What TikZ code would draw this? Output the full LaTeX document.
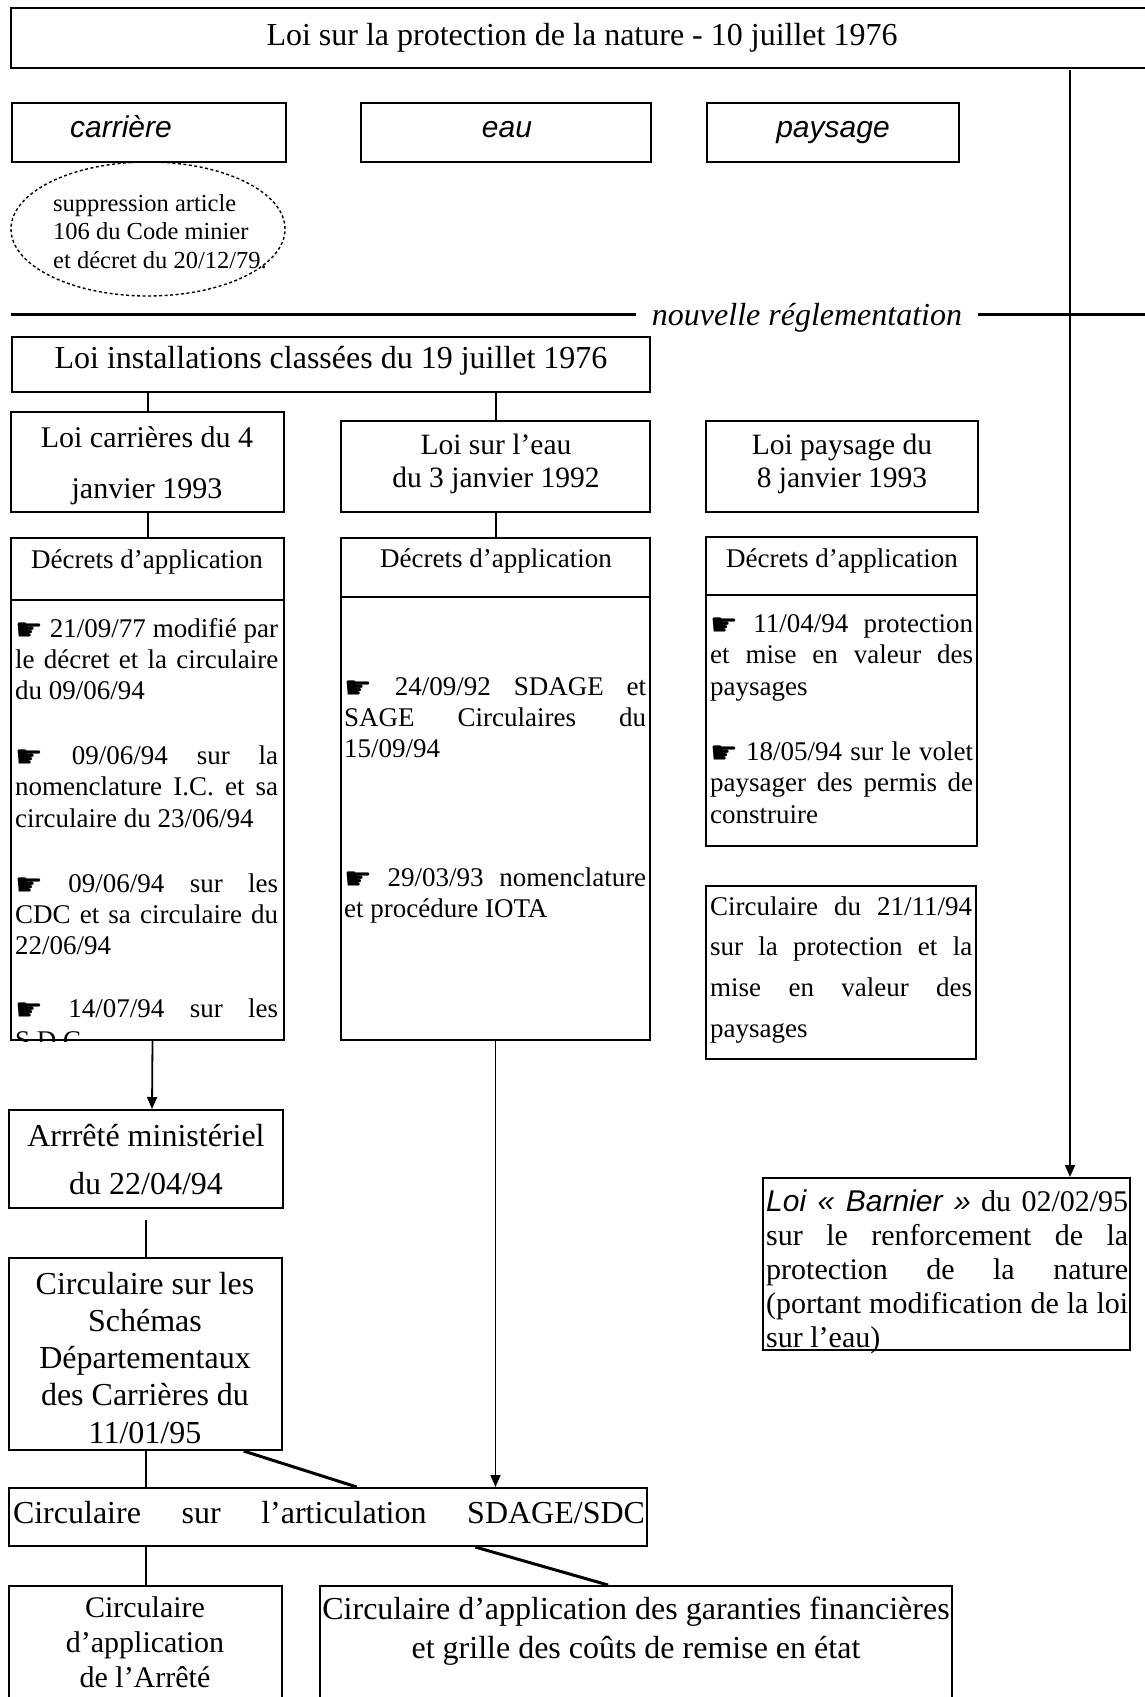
\documentclass[tikz,border=0pt]{standalone}
\usepackage{fontspec}
\setmainfont{Liberation Serif}
\newfontfamily\arial{Liberation Sans}
\newfontfamily\dejavu{DejaVu Sans}
\usetikzlibrary{arrows.meta,shapes.geometric,fit,calc}

\newcommand\TB[4]{\vtop{\hsize=#1pt\relax\parindent=0pt\fontsize{#2}{#3}\selectfont #4}}
\newcommand\CL[1]{\hbox to\hsize{\hfil#1\hfil}}
\newcommand\JL[1]{\hbox to\hsize{#1}}
\newcommand\LL[1]{\hbox to\hsize{#1\hfil}}
\newcommand\hand{\raisebox{-3pt}{\dejavu\fontsize{31}{31}\selectfont ☛}}

\tikzset{
  box/.style={draw, line width=2pt, inner sep=0pt, rectangle},
  conn/.style={line width=2pt},
  diag/.style={line width=3pt},
  arrow/.style={line width=1.8pt, -{Triangle[length=12pt,width=10pt]}},
  txt/.style={inner sep=0pt, anchor=base},
  blk/.style={inner sep=0pt, anchor=base west},
}

\begin{document}
\begin{tikzpicture}[x=1pt,y=-1pt]
\fill[white] (0,0) rectangle (1145,1697);
\useasboundingbox (0,0) rectangle (1145,1697);

% top
\node[box, fit={(11,8) (1185,68)}] (top) {};
\node[txt, font=\fontsize{32}{38}\selectfont] (ttop) at (582,45) {Loi sur la protection de la nature - 10 juillet 1976};

% themes
\node[box, fit={(12,103) (286,162)}] (carr) {};
\node[txt, font=\arial\itshape\fontsize{30}{36}\selectfont] (tcarr) at (121,137) {carrière};
\node[box, fit={(361,103) (651,162)}] (eau) {};
\node[txt, font=\arial\itshape\fontsize{30}{36}\selectfont] (teau) at (507,137) {eau};
\node[box, fit={(707,103) (959,162)}] (pays) {};
\node[txt, font=\arial\itshape\fontsize{30}{36}\selectfont] (tpays) at (833,137) {paysage};

% ellipse
\node[draw, ellipse, line width=1.4pt, dash pattern=on 3pt off 2.5pt, minimum width=274pt, minimum height=134pt, inner sep=0pt] (ell) at (148,229) {};
\node[blk] (tell) at (53,211) {\TB{240}{24.5}{28.5}{\LL{suppression article}\LL{106 du Code minier}\LL{et décret du 20/12/79.}}};

% nouvelle reglementation
\node[inner ysep=0pt, inner xsep=16pt, font=\itshape\fontsize{32}{38}\selectfont] (nr) at (807,318) {nouvelle réglementation};
\coordinate (nrL) at (11,314);
\coordinate (nrR) at (1185,314);
\draw[diag] (nrL) -- (nr.west |- nrL);
\draw[diag] (nr.east |- nrR) -- (nrR);

% Loi IC
\node[box, fit={(12,337) (650,392)}] (lic) {};
\node[inner sep=0pt, font=\fontsize{32}{38}\selectfont] (tlic) at (331,361) {Loi installations classées du 19 juillet 1976};

% Loi carrieres
\node[box, fit={(11,412) (284,512)}] (lc) {};
\node[txt] (tlc) at (147,447) {\TB{260}{30}{51}{\CL{Loi carrières du 4}\CL{janvier 1993}}};

% Loi eau
\node[box, fit={(341,421) (650,512)}] (le) {};
\node[txt] (tle) at (496,454) {\TB{300}{29.5}{33.5}{\CL{Loi sur l’eau}\CL{du 3 janvier 1992}}};

% Loi paysage
\node[box, fit={(706,421) (978,512)}] (lp) {};
\node[txt] (tlp) at (842,454) {\TB{265}{29.5}{33.5}{\CL{Loi paysage du}\CL{8 janvier 1993}}};

\draw[conn] (lic.south -| lc.north) -- (lc.north);
\draw[conn] (lic.south -| le.north) -- (le.north);

% Decrets carrieres
\node[box, fit={(11,538) (284,1040)}] (dc) {};
\draw[line width=2pt] (11,600) -- (284,600);
\node[inner sep=0pt, font=\fontsize{27}{31}\selectfont] (hdc) at (147,562) {Décrets d’application};
\begin{scope}
\clip (dc.south west) rectangle (dc.north east);
\node[blk] (bdc) at (15,637) {\TB{263}{27}{31.2}{%
\JL{\hand\ 21/09/77 modifié par}\JL{le décret et la circulaire}\LL{du 09/06/94}\vskip34pt
\JL{\hand\ 09/06/94 sur la}\JL{nomenclature I.C. et sa}\LL{circulaire du 23/06/94}\vskip34pt
\JL{\hand\ 09/06/94 sur les}\JL{CDC et sa circulaire du}\LL{22/06/94}\vskip32pt
\JL{\hand\ 14/07/94 sur les}\LL{S.D.C.}}};
\end{scope}
\draw[conn] (lc.south) -- (dc.north);

% Decrets eau
\node[box, fit={(341,538) (650,1040)}] (de) {};
\draw[line width=2pt] (341,597) -- (650,597);
\node[inner sep=0pt, font=\fontsize{27}{31}\selectfont] (hde) at (496,561) {Décrets d’application};
\node[blk] (bde) at (344,695) {\TB{302}{27}{31.3}{%
\JL{\hand\ 24/09/92 SDAGE et}\JL{SAGE Circulaires du}\LL{15/09/94}\vskip97.5pt
\JL{\hand\ 29/03/93 nomenclature}\LL{et procédure IOTA}}};
\draw[conn] (le.south) -- (de.north);

% Decrets paysage
\node[box, fit={(706,537) (977,846)}] (dp) {};
\draw[line width=2pt] (706,595) -- (977,595);
\node[inner sep=0pt, font=\fontsize{27}{31}\selectfont] (hdp) at (842,561) {Décrets d’application};
\node[blk] (bdp) at (710,632) {\TB{263}{27}{31.5}{%
\JL{\hand\ 11/04/94 protection}\JL{et mise en valeur des}\LL{paysages}\vskip33.5pt
\JL{\hand\ 18/05/94 sur le volet}\JL{paysager des permis de}\LL{construire}}};

% Circulaire 21/11/94
\node[box, fit={(706,886) (976,1059)}] (c21) {};
\node[blk] (tc21) at (710,915) {\TB{262}{27}{40.7}{%
\JL{Circulaire du 21/11/94}\JL{sur la protection et la}\JL{mise en valeur des}\LL{paysages}}};

% Barnier
\node[box, fit={(763,1178) (1130,1350)}] (bar) {};
\node[blk] (tbar) at (766,1211) {\TB{362}{30}{34.2}{%
\JL{{\arial\itshape Loi « Barnier »} du 02/02/95}\JL{sur le renforcement de la}\JL{protection de la nature}\JL{(portant modification de la loi}\LL{sur l’eau)}}};
\coordinate (vtop) at (1070,70);
\draw[arrow] (vtop) -- (vtop |- bar.north);

% Arrete
\node[box, fit={(9,1110) (283,1208)}] (arrete) {};
\node[txt] (tarr) at (146,1146) {\TB{270}{32}{48.5}{\CL{Arrrêté ministériel}\CL{du 22/04/94}}};
\draw[arrow] ([xshift=5pt]dc.south) -- ([xshift=6pt]arrete.north);

% SDC
\node[box, fit={(9,1258) (282,1450)}] (sdc) {};
\node[txt] (tsdc) at (145,1294) {\TB{270}{32}{37.3}{\CL{Circulaire sur les}\CL{Schémas}\CL{Départementaux}\CL{des Carrières du}\CL{11/01/95}}};
\draw[conn] ([yshift=-11pt]arrete.south) -- (arrete.south |- sdc.north);

% articulation
\node[box, fit={(9,1488) (647,1546)}] (art) {};
\node[inner sep=0pt] (tart) at (329,1513) {\fontsize{32}{38}\selectfont\hbox to 632pt{Circulaire sur l’articulation SDAGE/SDC}};
\draw[conn] (sdc.south) -- (sdc.south |- art.north);
\draw[diag] ($(sdc.south west)!0.857!(sdc.south east)$) -- ($(art.north west)!0.545!(art.north east)$);
\draw[arrow] (de.south) -- (de.south |- art.north);

% bottom boxes
\node[box, fit={(9,1586) (282,1740)}] (cap) {};
\node[txt] (tcap) at (145,1617) {\TB{270}{30}{35}{\CL{Circulaire}\CL{d’application}\CL{de l’Arrêté}}};
\draw[conn] (art.south -| cap.north) -- (cap.north);

\node[box, fit={(320,1586) (952,1740)}] (gar) {};
\node[txt] (tgar) at (636,1619) {\TB{630}{32}{39}{\CL{Circulaire d’application des garanties financières}\CL{et grille des coûts de remise en état}}};
\draw[diag] ($(art.south west)!0.73!(art.south east)$) -- ($(gar.north west)!0.456!(gar.north east)$);
\end{tikzpicture}
\end{document}
